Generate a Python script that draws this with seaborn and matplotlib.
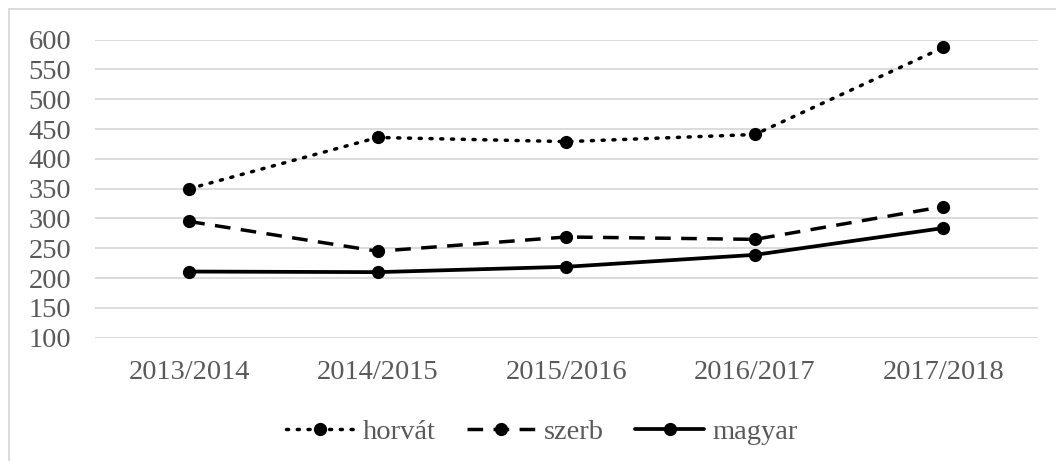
import matplotlib
matplotlib.use("Agg")
import matplotlib.pyplot as plt
import seaborn as sns
import pandas as pd
from matplotlib.patches import Rectangle

years = ["2013/2014", "2014/2015", "2015/2016", "2016/2017", "2017/2018"]
horvat = [350, 436, 429, 441, 587]
szerb = [295, 245, 269, 265, 320]
magyar = [211, 210, 219, 239, 284]
series_names = ["horvát", "szerb", "magyar"]

sns.set_theme(style="white")
plt.rcParams['font.family'] = ['Liberation Serif', 'DejaVu Serif']

df = pd.DataFrame({
    "tanév": years * 3,
    "érték": horvat + szerb + magyar,
    "nyelv": [series_names[0]] * 5 + [series_names[1]] * 5 + [series_names[2]] * 5,
})
df["x"] = list(range(5)) * 3

fig = plt.figure(figsize=(10.56, 4.61), dpi=100)
ax = fig.add_axes([95 / 1056, 1 - 337.7 / 461, (1037.7 - 95) / 1056, (337.7 - 39.7) / 461])

styles = {
    "horvát": dict(linestyle=(0, (0.6, 2.5)), linewidth=2.5, dash_capstyle="round"),
    "szerb": dict(linestyle=(0, (4.5, 3.0)), linewidth=2.5),
    "magyar": dict(linestyle="-", linewidth=2.7),
}
for name in series_names:
    sub = df[df["nyelv"] == name]
    sns.lineplot(data=sub, x="x", y="érték", ax=ax, color="black", marker="o",
                 markersize=9.5, markeredgewidth=0, label=name, **styles[name])

ax.set_xlim(-0.5, 4.5)
ax.set_ylim(100, 600)
ax.set_yticks(range(100, 601, 50))
ax.set_xticks(range(5))
ax.set_xticklabels(years)
ax.set_xlabel("")
ax.set_ylabel("")
ax.grid(axis="y", color="#d9d9d9", linewidth=1.3)
ax.set_axisbelow(True)
for s in ax.spines.values():
    s.set_visible(False)
ax.tick_params(axis="both", length=0, labelsize=20.5, colors="#595959")
ax.tick_params(axis="y", pad=17)
ax.tick_params(axis="x", pad=16)

leg = ax.legend(loc="center", bbox_to_anchor=(0.474, -0.316), ncol=3, frameon=False,
                fontsize=20.5, handlelength=2.4, columnspacing=1.1, handletextpad=0.3)
for t in leg.get_texts():
    t.set_color("#595959")

fig.patches.append(Rectangle((8.5 / 1056, -0.05), 1.1, (461 - 9.5) / 461 + 0.05,
                             transform=fig.transFigure, fill=False,
                             edgecolor="#d9d9d9", linewidth=1.3))

fig.savefig("out.png", dpi=100)
